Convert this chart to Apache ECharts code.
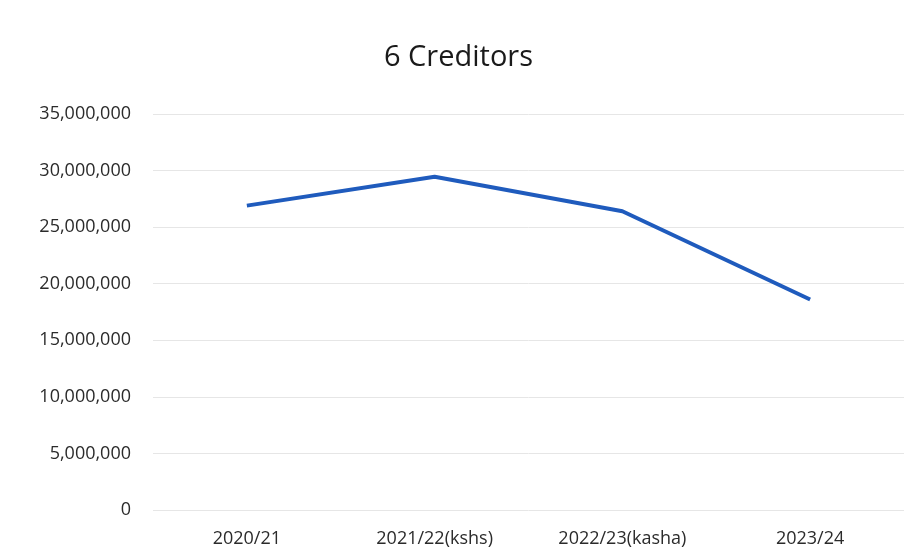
<!DOCTYPE html>
<html>
<head>
<meta charset="utf-8">
<script src="https://cdn.jsdelivr.net/npm/echarts@6/dist/echarts.min.js"></script>
<style>
  html, body { margin: 0; padding: 0; background: #fff; }
  #chart { width: 917px; height: 560px; }
</style>
</head>
<body>
<div id="chart"></div>
<script>
const categories = ['2020/21', '2021/22(kshs)', '2022/23(kasha)', '2023/24'];
const creditors = [26900000, 29450000, 26400000, 18600000];

const chart = echarts.init(document.getElementById('chart'));
chart.setOption({
  backgroundColor: '#fff',
  title: {
    text: '6 Creditors',
    left: 'center',
    top: 38,
    textStyle: { fontFamily: 'Open Sans', fontSize: 29, fontWeight: 'normal', color: '#1a1a1a' }
  },
  grid: { left: 153, right: 13, top: 114, bottom: 50 },
  xAxis: {
    type: 'category',
    data: categories,
    axisLine: { show: false },
    axisTick: { show: false },
    axisLabel: { fontFamily: 'Open Sans', fontSize: 18, color: '#2b2b2b', margin: 20 }
  },
  yAxis: {
    type: 'value',
    min: 0,
    max: 35000000,
    interval: 5000000,
    axisLine: { show: false },
    axisTick: { show: false },
    splitLine: { lineStyle: { color: '#e6e6e6', width: 1 } },
    axisLabel: {
      fontFamily: 'Open Sans',
      fontSize: 18,
      color: '#2b2b2b',
      margin: 22,
      formatter: v => v.toLocaleString('en-US')
    }
  },
  series: [{
    type: 'line',
    data: creditors,
    symbol: 'none',
    lineStyle: { color: '#1f5bbd', width: 4 }
  }]
});
</script>
</body>
</html>
